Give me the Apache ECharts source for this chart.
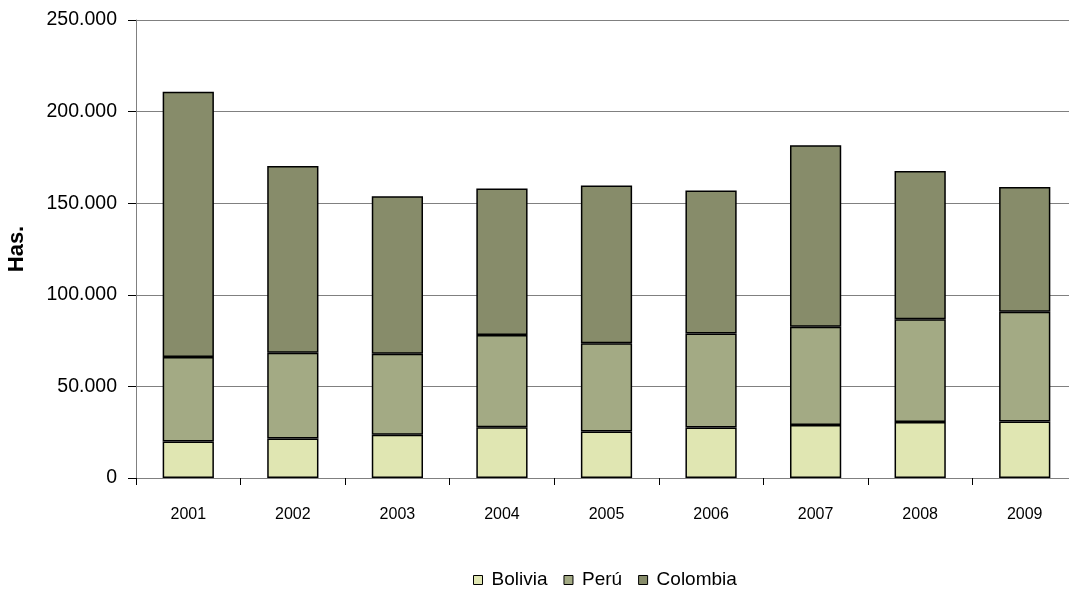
<!DOCTYPE html>
<html>
<head>
<meta charset="utf-8">
<script src="https://cdn.jsdelivr.net/npm/echarts@6/dist/echarts.min.js"></script>
<style>html,body{margin:0;padding:0;background:#fff}#c{width:1069px;height:595px}</style>
</head>
<body>
<div id="c"></div>
<script>
const years = ['2001','2002','2003','2004','2005','2006','2007','2008','2009'];
const bolivia = [19900, 21600, 23600, 27700, 25400, 27500, 28900, 30500, 30900];
const peru = [46200, 46700, 44200, 50300, 48200, 51400, 53700, 56100, 59900];
const colombia = [144800, 102000, 86000, 80000, 86000, 78000, 99000, 81000, 68000];
const seriesNames = ['Bolivia', 'Perú', 'Colombia'];
const colors = ['#E0E6B2', '#A3AA84', '#878C6A'];

const FONT = "'Liberation Sans Narrow','Arial Narrow','Liberation Sans',Arial,sans-serif";
const chart = echarts.init(document.getElementById('c'), null, {renderer: 'canvas'});
function fmt(v){ return String(v).replace(/\B(?=(\d{3})+(?!\d))/g, '.'); }
const data = [bolivia, peru, colombia];
chart.setOption({
  animation: false,
  textStyle: {fontFamily: FONT},
  grid: {left: 136, right: -8, top: 20, bottom: 117, containLabel: false, outerBoundsMode: 'none'},
  legend: {
    data: seriesNames,
    top: 570,
    left: 473,
    padding: 0,
    icon: 'rect',
    itemWidth: 9,
    itemHeight: 9,
    itemGap: 16,
    textStyle: {fontFamily: FONT, fontSize: 19, color: '#000', lineHeight: 20, padding: [0,0,0,4]},
    itemStyle: {borderColor: '#000', borderWidth: 1}
  },
  xAxis: {
    type: 'category',
    data: years,
    axisLine: {lineStyle: {color: '#808080', width: 1}},
    axisTick: {show: true, length: 7, lineStyle: {color: '#000'}},
    axisLabel: {fontFamily: FONT, fontSize: 16, color: '#000', margin: 29}
  },
  yAxis: {
    type: 'value',
    min: 0, max: 250000, interval: 50000,
    name: 'Has.',
    nameLocation: 'middle',
    nameGap: 108,
    nameTextStyle: {fontFamily: FONT, fontSize: 22, fontWeight: 'bold', color: '#000'},
    axisLine: {show: true, lineStyle: {color: '#808080', width: 1}},
    axisTick: {show: true, length: 8, lineStyle: {color: '#000'}},
    axisLabel: {fontFamily: FONT, fontSize: 19.5, color: '#000', margin: 19, formatter: fmt},
    splitLine: {show: true, lineStyle: {color: '#808080', width: 1}}
  },
  series: seriesNames.map((n, i) => ({
    name: n,
    type: 'bar',
    stack: 'total',
    barWidth: '49%',
    data: data[i],
    itemStyle: {color: colors[i], borderColor: '#000', borderWidth: 1.5}
  }))
});
</script>
</body>
</html>
